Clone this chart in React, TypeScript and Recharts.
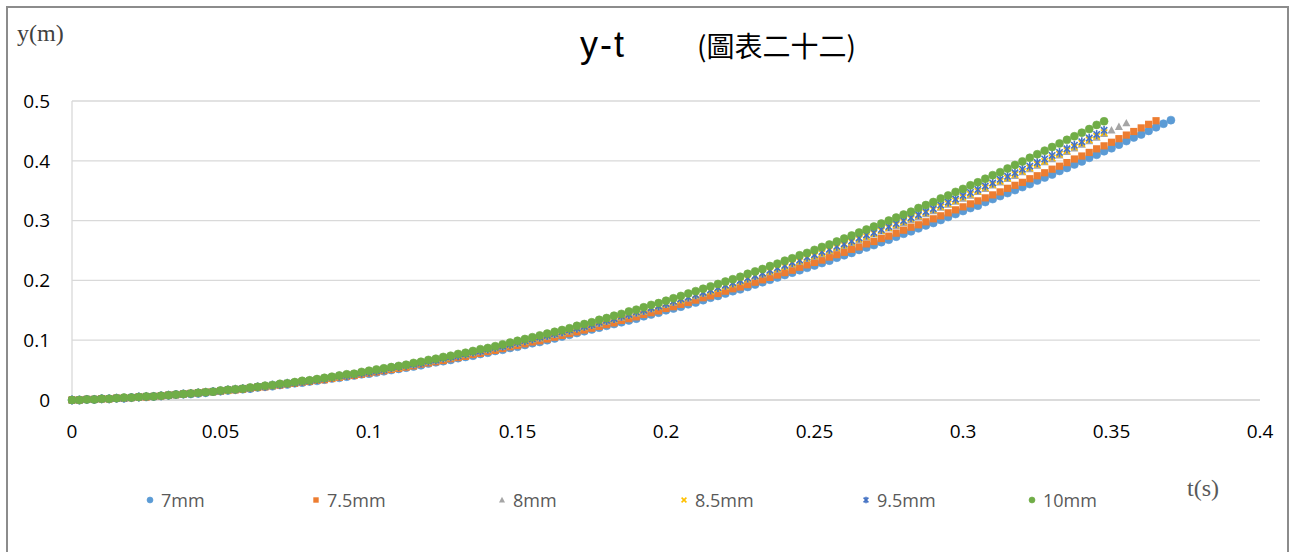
import React from "react";
import { ScatterChart, Scatter, XAxis, YAxis, CartesianGrid } from "recharts";

// time (s), sampled every frame
const T = [
  0, 0.0025, 0.005, 0.0075, 0.01, 0.0125, 0.015, 0.0175, 0.02, 0.0225,
  0.025, 0.0275, 0.03, 0.0325, 0.035, 0.0375, 0.04, 0.0425, 0.045, 0.0475,
  0.05, 0.0525, 0.055, 0.0575, 0.06, 0.0625, 0.065, 0.0675, 0.07, 0.0725,
  0.075, 0.0775, 0.08, 0.0825, 0.085, 0.0875, 0.09, 0.0925, 0.095, 0.0975,
  0.1, 0.1025, 0.105, 0.1075, 0.11, 0.1125, 0.115, 0.1175, 0.12, 0.1225,
  0.125, 0.1275, 0.13, 0.1325, 0.135, 0.1375, 0.14, 0.1425, 0.145, 0.1475,
  0.15, 0.1525, 0.155, 0.1575, 0.16, 0.1625, 0.165, 0.1675, 0.17, 0.1725,
  0.175, 0.1775, 0.18, 0.1825, 0.185, 0.1875, 0.19, 0.1925, 0.195, 0.1975,
  0.2, 0.2025, 0.205, 0.2075, 0.21, 0.2125, 0.215, 0.2175, 0.22, 0.2225,
  0.225, 0.2275, 0.23, 0.2325, 0.235, 0.2375, 0.24, 0.2425, 0.245, 0.2475,
  0.25, 0.2525, 0.255, 0.2575, 0.26, 0.2625, 0.265, 0.2675, 0.27, 0.2725,
  0.275, 0.2775, 0.28, 0.2825, 0.285, 0.2875, 0.29, 0.2925, 0.295, 0.2975,
  0.3, 0.3025, 0.305, 0.3075, 0.31, 0.3125, 0.315, 0.3175, 0.32, 0.3225,
  0.325, 0.3275, 0.33, 0.3325, 0.335, 0.3375, 0.34, 0.3425, 0.345, 0.3475,
  0.35, 0.3525, 0.355, 0.3575, 0.36, 0.3625, 0.365, 0.3675, 0.37,
];

// y (m) for each ball diameter
const Y_7MM = [
  0, 0, 0.001, 0.001, 0.002, 0.002, 0.003, 0.003, 0.004, 0.005,
  0.005, 0.006, 0.007, 0.008, 0.009, 0.01, 0.01, 0.011, 0.012, 0.014,
  0.015, 0.016, 0.017, 0.018, 0.019, 0.021, 0.022, 0.023, 0.025, 0.026,
  0.028, 0.029, 0.031, 0.032, 0.034, 0.036, 0.037, 0.039, 0.041, 0.043,
  0.044, 0.046, 0.048, 0.05, 0.052, 0.054, 0.056, 0.058, 0.061, 0.063,
  0.065, 0.067, 0.07, 0.072, 0.074, 0.077, 0.079, 0.082, 0.084, 0.087,
  0.089, 0.092, 0.095, 0.097, 0.1, 0.103, 0.106, 0.109, 0.112, 0.115,
  0.118, 0.121, 0.124, 0.127, 0.13, 0.133, 0.136, 0.14, 0.143, 0.146,
  0.15, 0.153, 0.156, 0.16, 0.163, 0.167, 0.171, 0.174, 0.178, 0.182,
  0.185, 0.189, 0.193, 0.197, 0.201, 0.205, 0.209, 0.213, 0.217, 0.221,
  0.225, 0.229, 0.233, 0.238, 0.242, 0.246, 0.251, 0.255, 0.259, 0.264,
  0.268, 0.273, 0.278, 0.282, 0.287, 0.292, 0.296, 0.301, 0.306, 0.311,
  0.316, 0.321, 0.325, 0.331, 0.336, 0.341, 0.346, 0.351, 0.356, 0.361,
  0.367, 0.372, 0.377, 0.383, 0.388, 0.394, 0.399, 0.405, 0.41, 0.416,
  0.421, 0.427, 0.433, 0.439, 0.444, 0.45, 0.456, 0.462, 0.468,
];
const Y_7_5MM = [
  0, 0, 0.001, 0.001, 0.002, 0.002, 0.003, 0.003, 0.004, 0.005,
  0.005, 0.006, 0.007, 0.008, 0.009, 0.01, 0.011, 0.012, 0.013, 0.014,
  0.015, 0.016, 0.017, 0.018, 0.02, 0.021, 0.022, 0.024, 0.025, 0.027,
  0.028, 0.03, 0.031, 0.033, 0.034, 0.036, 0.038, 0.04, 0.041, 0.043,
  0.045, 0.047, 0.049, 0.051, 0.053, 0.055, 0.057, 0.06, 0.062, 0.064,
  0.066, 0.069, 0.071, 0.073, 0.076, 0.078, 0.081, 0.083, 0.086, 0.089,
  0.091, 0.094, 0.097, 0.099, 0.102, 0.105, 0.108, 0.111, 0.114, 0.117,
  0.12, 0.123, 0.126, 0.129, 0.133, 0.136, 0.139, 0.143, 0.146, 0.149,
  0.153, 0.156, 0.16, 0.163, 0.167, 0.171, 0.174, 0.178, 0.182, 0.186,
  0.189, 0.193, 0.197, 0.201, 0.205, 0.209, 0.213, 0.217, 0.222, 0.226,
  0.23, 0.234, 0.239, 0.243, 0.247, 0.252, 0.256, 0.261, 0.265, 0.27,
  0.274, 0.279, 0.284, 0.289, 0.293, 0.298, 0.303, 0.308, 0.313, 0.318,
  0.323, 0.328, 0.333, 0.338, 0.343, 0.348, 0.354, 0.359, 0.364, 0.37,
  0.375, 0.38, 0.386, 0.391, 0.397, 0.403, 0.408, 0.414, 0.42, 0.425,
  0.431, 0.437, 0.443, 0.449, 0.455, 0.461, 0.467,
];
const Y_8MM = [
  0, 0, 0.001, 0.001, 0.002, 0.002, 0.003, 0.003, 0.004, 0.005,
  0.006, 0.006, 0.007, 0.008, 0.009, 0.01, 0.011, 0.012, 0.013, 0.014,
  0.015, 0.016, 0.018, 0.019, 0.02, 0.022, 0.023, 0.024, 0.026, 0.027,
  0.029, 0.031, 0.032, 0.034, 0.036, 0.037, 0.039, 0.041, 0.043, 0.045,
  0.047, 0.049, 0.051, 0.053, 0.055, 0.057, 0.059, 0.062, 0.064, 0.066,
  0.069, 0.071, 0.074, 0.076, 0.079, 0.081, 0.084, 0.087, 0.089, 0.092,
  0.095, 0.098, 0.101, 0.103, 0.106, 0.109, 0.112, 0.115, 0.119, 0.122,
  0.125, 0.128, 0.131, 0.135, 0.138, 0.142, 0.145, 0.148, 0.152, 0.156,
  0.159, 0.163, 0.167, 0.17, 0.174, 0.178, 0.182, 0.186, 0.19, 0.194,
  0.198, 0.202, 0.206, 0.21, 0.214, 0.218, 0.223, 0.227, 0.231, 0.236,
  0.24, 0.244, 0.249, 0.254, 0.258, 0.263, 0.267, 0.272, 0.277, 0.282,
  0.287, 0.291, 0.296, 0.301, 0.306, 0.311, 0.316, 0.322, 0.327, 0.332,
  0.337, 0.342, 0.348, 0.353, 0.359, 0.364, 0.37, 0.375, 0.381, 0.386,
  0.392, 0.398, 0.403, 0.409, 0.415, 0.421, 0.427, 0.433, 0.439, 0.445,
  0.451, 0.457, 0.463,
];
const Y_8_5MM = [
  0, 0, 0.001, 0.001, 0.002, 0.002, 0.003, 0.003, 0.004, 0.005,
  0.006, 0.006, 0.007, 0.008, 0.009, 0.01, 0.011, 0.012, 0.013, 0.014,
  0.015, 0.016, 0.018, 0.019, 0.02, 0.022, 0.023, 0.024, 0.026, 0.027,
  0.029, 0.031, 0.032, 0.034, 0.036, 0.037, 0.039, 0.041, 0.043, 0.045,
  0.047, 0.049, 0.051, 0.053, 0.055, 0.057, 0.06, 0.062, 0.064, 0.067,
  0.069, 0.071, 0.074, 0.076, 0.079, 0.082, 0.084, 0.087, 0.09, 0.092,
  0.095, 0.098, 0.101, 0.104, 0.107, 0.11, 0.113, 0.116, 0.119, 0.122,
  0.125, 0.129, 0.132, 0.135, 0.139, 0.142, 0.146, 0.149, 0.153, 0.156,
  0.16, 0.164, 0.167, 0.171, 0.175, 0.179, 0.182, 0.186, 0.19, 0.194,
  0.198, 0.202, 0.207, 0.211, 0.215, 0.219, 0.223, 0.228, 0.232, 0.237,
  0.241, 0.245, 0.25, 0.255, 0.259, 0.264, 0.269, 0.273, 0.278, 0.283,
  0.288, 0.293, 0.298, 0.303, 0.308, 0.313, 0.318, 0.323, 0.328, 0.333,
  0.339, 0.344, 0.349, 0.355, 0.36, 0.366, 0.371, 0.377, 0.382, 0.388,
  0.394, 0.399, 0.405, 0.411, 0.417, 0.423, 0.429, 0.435, 0.441, 0.447,
];
const Y_9_5MM = [
  0, 0, 0.001, 0.001, 0.002, 0.002, 0.003, 0.003, 0.004, 0.005,
  0.006, 0.006, 0.007, 0.008, 0.009, 0.01, 0.011, 0.012, 0.013, 0.014,
  0.015, 0.017, 0.018, 0.019, 0.02, 0.022, 0.023, 0.025, 0.026, 0.028,
  0.029, 0.031, 0.032, 0.034, 0.036, 0.038, 0.04, 0.041, 0.043, 0.045,
  0.047, 0.049, 0.051, 0.054, 0.056, 0.058, 0.06, 0.062, 0.065, 0.067,
  0.07, 0.072, 0.074, 0.077, 0.08, 0.082, 0.085, 0.088, 0.09, 0.093,
  0.096, 0.099, 0.102, 0.105, 0.108, 0.111, 0.114, 0.117, 0.12, 0.123,
  0.126, 0.13, 0.133, 0.136, 0.14, 0.143, 0.147, 0.15, 0.154, 0.157,
  0.161, 0.165, 0.169, 0.172, 0.176, 0.18, 0.184, 0.188, 0.192, 0.196,
  0.2, 0.204, 0.208, 0.212, 0.217, 0.221, 0.225, 0.23, 0.234, 0.239,
  0.243, 0.248, 0.252, 0.257, 0.261, 0.266, 0.271, 0.276, 0.28, 0.285,
  0.29, 0.295, 0.3, 0.305, 0.31, 0.315, 0.32, 0.326, 0.331, 0.336,
  0.342, 0.347, 0.352, 0.358, 0.363, 0.369, 0.374, 0.38, 0.386, 0.391,
  0.397, 0.403, 0.409, 0.414, 0.42, 0.426, 0.432, 0.438, 0.444, 0.451,
];
const Y_10MM = [
  0, 0, 0.001, 0.001, 0.002, 0.002, 0.003, 0.004, 0.004, 0.005,
  0.006, 0.006, 0.007, 0.008, 0.009, 0.01, 0.011, 0.012, 0.013, 0.014,
  0.016, 0.017, 0.018, 0.019, 0.021, 0.022, 0.024, 0.025, 0.027, 0.028,
  0.03, 0.032, 0.033, 0.035, 0.037, 0.039, 0.041, 0.043, 0.044, 0.047,
  0.049, 0.051, 0.053, 0.055, 0.057, 0.059, 0.062, 0.064, 0.067, 0.069,
  0.072, 0.074, 0.077, 0.079, 0.082, 0.085, 0.087, 0.09, 0.093, 0.096,
  0.099, 0.102, 0.105, 0.108, 0.111, 0.114, 0.117, 0.12, 0.124, 0.127,
  0.13, 0.134, 0.137, 0.141, 0.144, 0.148, 0.151, 0.155, 0.159, 0.162,
  0.166, 0.17, 0.174, 0.178, 0.182, 0.186, 0.19, 0.194, 0.198, 0.202,
  0.206, 0.211, 0.215, 0.219, 0.224, 0.228, 0.233, 0.237, 0.242, 0.246,
  0.251, 0.256, 0.26, 0.265, 0.27, 0.275, 0.28, 0.285, 0.29, 0.295,
  0.3, 0.305, 0.31, 0.315, 0.321, 0.326, 0.331, 0.337, 0.342, 0.348,
  0.353, 0.359, 0.364, 0.37, 0.376, 0.381, 0.387, 0.393, 0.399, 0.405,
  0.411, 0.417, 0.423, 0.429, 0.435, 0.441, 0.447, 0.453, 0.46, 0.466,
];

const SERIES_NAMES = ["7mm", "7.5mm", "8mm", "8.5mm", "9.5mm", "10mm"];
const SERIES_VALUES = [Y_7MM, Y_7_5MM, Y_8MM, Y_8_5MM, Y_9_5MM, Y_10MM];
const SERIES_COLORS = ["#5B9BD5", "#ED7D31", "#A5A5A5", "#FFC000", "#4472C4", "#70AD47"];
const SERIES_MARKERS = ["circle", "square", "triangle", "x", "star", "circle"];

const X_TICKS = [0, 0.05, 0.1, 0.15, 0.2, 0.25, 0.3, 0.35, 0.4];
const Y_TICKS = [0, 0.1, 0.2, 0.3, 0.4, 0.5];

const TITLE = "y-t";
const SUBTITLE = "(圖表二十二)";
const Y_LABEL = "y(m)";
const X_LABEL = "t(s)";

const LEGEND_X = [150, 316, 502, 684, 866, 1032];

function Marker({ kind, color, cx, cy, s }: { kind: string; color: string; cx: number; cy: number; s: number }) {
  if (kind === "circle") return <circle cx={cx} cy={cy} r={s} fill={color} stroke={color} strokeWidth={0.6} />;
  if (kind === "square")
    return <rect x={cx - s * 0.9} y={cy - s * 0.9} width={s * 1.8} height={s * 1.8} fill={color} />;
  if (kind === "triangle")
    return (
      <polygon
        points={`${cx},${cy - s * 1.05} ${cx + s},${cy + s * 0.8} ${cx - s},${cy + s * 0.8}`}
        fill={color}
      />
    );
  if (kind === "x")
    return (
      <g stroke={color} strokeWidth={1.6}>
        <line x1={cx - s * 0.8} y1={cy - s * 0.8} x2={cx + s * 0.8} y2={cy + s * 0.8} />
        <line x1={cx - s * 0.8} y1={cy + s * 0.8} x2={cx + s * 0.8} y2={cy - s * 0.8} />
      </g>
    );
  return (
    <g stroke={color} strokeWidth={1.6}>
      <line x1={cx - s * 0.8} y1={cy - s * 0.8} x2={cx + s * 0.8} y2={cy + s * 0.8} />
      <line x1={cx - s * 0.8} y1={cy + s * 0.8} x2={cx + s * 0.8} y2={cy - s * 0.8} />
      <line x1={cx} y1={cy - s * 1.1} x2={cx} y2={cy + s * 1.1} />
    </g>
  );
}

const fmtTick = (v: number) => String(v);

export default function App() {
  const seriesData = SERIES_VALUES.map((ys) => ys.map((y, i) => ({ x: T[i], y })));
  return (
    <div style={{ position: "absolute", left: 0, top: 0, width: 1295, height: 552, background: "#fff", overflow: "hidden" }}>
      <div
        style={{
          position: "absolute",
          left: 6,
          top: 6,
          width: 1283,
          height: 560,
          border: "2px solid #8c8c8c",
          boxSizing: "border-box",
        }}
      />
      <ScatterChart
        width={1295}
        height={552}
        margin={{ top: 101, right: 35, bottom: 122, left: 12 }}
        style={{ position: "absolute", left: 0, top: 0 }}
      >
        <CartesianGrid horizontal vertical={false} stroke="#d9d9d9" strokeWidth={1.3} />
        <XAxis
          type="number"
          dataKey="x"
          domain={[0, 0.4]}
          ticks={X_TICKS}
          tickFormatter={fmtTick}
          axisLine={{ stroke: "#d9d9d9", strokeWidth: 1.3 }}
          tickLine={false}
          tickSize={0}
          tickMargin={25}
          height={30}
          interval={0}
          tick={{ fill: "#000", fontSize: 19, fontFamily: "Open Sans" }}
        />
        <YAxis
          type="number"
          dataKey="y"
          domain={[0, 0.5]}
          ticks={Y_TICKS}
          tickFormatter={fmtTick}
          axisLine={{ stroke: "#d9d9d9", strokeWidth: 1.3 }}
          tickLine={false}
          tickSize={0}
          tickMargin={22}
          width={60}
          interval={0}
          tick={{ fill: "#000", fontSize: 19, fontFamily: "Open Sans" }}
        />
        {SERIES_NAMES.map((name, k) => (
          <Scatter
            key={name}
            name={name}
            data={seriesData[k]}
            isAnimationActive={false}
            shape={(p: any) => (
              <Marker kind={SERIES_MARKERS[k]} color={SERIES_COLORS[k]} cx={p.cx} cy={p.cy} s={4} />
            )}
          />
        ))}
      </ScatterChart>
      <svg width={1295} height={552} style={{ position: "absolute", left: 0, top: 0, pointerEvents: "none" }}>
        <text x={17} y={41} fontFamily="Liberation Serif" fontSize={24} fill="#404040">
          {Y_LABEL}
        </text>
        <text x={1187} y={496} fontFamily="Liberation Serif" fontSize={24} fill="#595959">
          {X_LABEL}
        </text>
        <text x={603} y={57} textAnchor="middle" fontFamily="Liberation Sans" fontSize={36} letterSpacing={2} fill="#000">
          {TITLE}
        </text>
        <text x={697} y={57} fontFamily="Noto Sans CJK TC" fontSize={28} fill="#000">
          {SUBTITLE}
        </text>
        {SERIES_NAMES.map((name, k) => (
          <g key={name}>
            <Marker kind={SERIES_MARKERS[k]} color={SERIES_COLORS[k]} cx={LEGEND_X[k]} cy={500} s={3} />
            <text x={LEGEND_X[k] + 11} y={507} fontFamily="Open Sans" fontSize={18} fill="#595959">
              {name}
            </text>
          </g>
        ))}
      </svg>
    </div>
  );
}
